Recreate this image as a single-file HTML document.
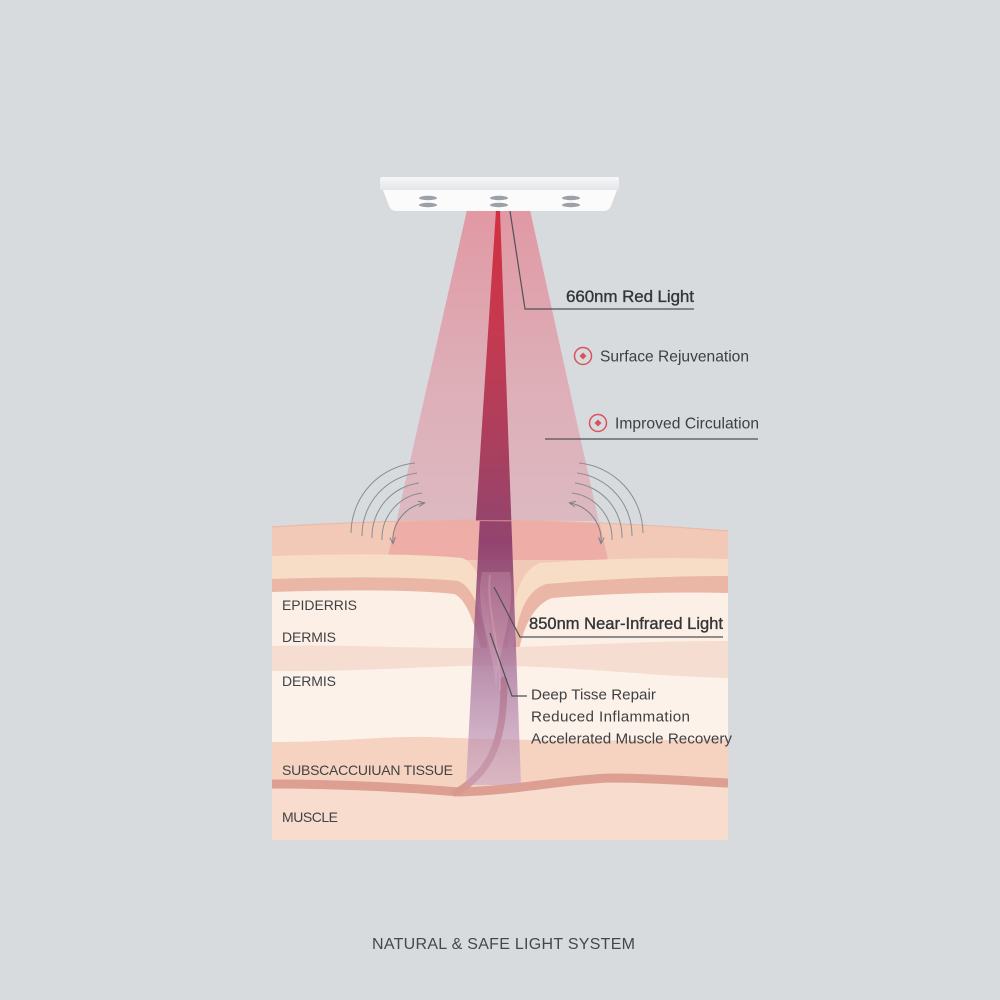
<!DOCTYPE html>
<html>
<head>
<meta charset="utf-8">
<style>
html,body{margin:0;padding:0;background:#d8dbde;}
svg{display:block;}
text{font-family:"Liberation Sans",sans-serif;}
</style>
</head>
<body>
<svg width="1000" height="1000" viewBox="0 0 1000 1000" xmlns="http://www.w3.org/2000/svg">
<defs>
  <linearGradient id="cone" gradientUnits="userSpaceOnUse" x1="0" y1="210" x2="0" y2="560">
    <stop offset="0" stop-color="rgb(232,100,118)" stop-opacity="0.56"/>
    <stop offset="0.5" stop-color="rgb(230,108,126)" stop-opacity="0.40"/>
    <stop offset="1" stop-color="rgb(230,110,130)" stop-opacity="0.29"/>
  </linearGradient>
  <linearGradient id="beam" gradientUnits="userSpaceOnUse" x1="0" y1="210" x2="0" y2="785">
    <stop offset="0" stop-color="#d2303f"/>
    <stop offset="0.2" stop-color="#c6394f"/>
    <stop offset="0.42" stop-color="#a9405f"/>
    <stop offset="0.58" stop-color="#8d3f6c" stop-opacity="0.95"/>
    <stop offset="0.76" stop-color="#96598a" stop-opacity="0.72"/>
    <stop offset="1" stop-color="#c3a0c3" stop-opacity="0.55"/>
  </linearGradient>
  <linearGradient id="bar" x1="0" y1="0" x2="0" y2="1">
    <stop offset="0" stop-color="#f6f7f8"/>
    <stop offset="1" stop-color="#e3e5e8"/>
  </linearGradient>
  <clipPath id="skin">
    <path d="M272,527 Q500,512 728,531 L728,840 L272,840 Z"/>
  </clipPath>
  <clipPath id="above"><path d="M0,0 L1000,0 L1000,531 Q500,512 0,527 Z"/></clipPath>
  <marker id="ah" viewBox="0 0 10 10" refX="8" refY="5" markerWidth="7" markerHeight="7" orient="auto-start-reverse">
    <path d="M0,1 L9,5 L0,9" fill="none" stroke="#7d8084" stroke-width="1.4"/>
  </marker>
</defs>

<rect width="1000" height="1000" fill="#d8dbde"/>

<!-- SKIN -->
<g clip-path="url(#skin)">
  <rect x="272" y="500" width="456" height="340" fill="#f2c9b7"/>
  <polygon points="467,210 530,210 608,560 387,560" fill="url(#cone)"/>
  <!-- layer 2 peach -->
  <path d="M272,556 Q400,552 462,558 C480,564 488,600 494,665 L506,665 C512,600 518,572 540,563 Q640,556 728,559 L728,840 L272,840 Z" fill="#f8ddc6"/>
  <!-- layer 3 dark pink -->
  <path d="M272,579 Q400,575 458,581 C476,588 484,620 492,675 L510,675 C516,615 524,592 546,584 Q640,576 728,576 L728,840 L272,840 Z" fill="#eab6a6"/>
  <!-- layer 4 cream -->
  <path d="M272,592 Q400,588 454,594 C470,600 480,640 490,690 L512,690 C518,640 528,607 552,598 Q640,591 728,593 L728,840 L272,840 Z" fill="#fcefe6"/>
  <!-- band 5 light pink -->
  <path d="M272,646 C330,644 400,648 460,648 C540,648 620,641 728,641 L728,840 L272,840 Z" fill="#f6ddd1"/>
  <!-- layer 6 cream -->
  <path d="M272,671 C340,672 400,668 460,666 C560,664 640,676 728,678 L728,840 L272,840 Z" fill="#fcf2ea"/>
  <!-- subcutaneous -->
  <path d="M272,742 C340,742 380,736 430,737 C500,740 600,742 728,739 L728,840 L272,840 Z" fill="#f6d3c0"/>
  <!-- muscle -->
  <path d="M272,788 C340,788 400,791 460,796 C520,794 560,784 610,782 C660,782 700,786 728,788 L728,840 L272,840 Z" fill="#f8dccd"/>
  <path d="M272,784 C340,784 400,787 460,792 C520,790 560,780 610,778 C660,778 700,782 728,783" fill="none" stroke="#dc9f92" stroke-width="9"/>
  <path d="M504,680 C504,735 495,770 455,793" fill="none" stroke="#d6998f" stroke-width="7" stroke-linecap="round"/>
  <polygon points="496,210 500,210 521,785 466,785" fill="url(#beam)"/>
  <path d="M482,572 C474,610 492,640 496,688 C500,640 516,612 510,572 Z" fill="rgba(255,215,220,0.18)"/>
  <path d="M490,575 C486,610 500,640 500,690" fill="none" stroke="rgba(240,190,200,0.25)" stroke-width="2"/>
</g>
<path d="M272,527 Q500,512 728,531" fill="none" stroke="#ebb9a8" stroke-width="1.2"/>

<polygon points="467,210 530,210 604,545 391,545" fill="url(#cone)" clip-path="url(#above)"/>
<polygon points="496,210 500,210 514.6,610 470,610" fill="url(#beam)" clip-path="url(#above)"/>

<!-- DEVICE -->
<rect x="380" y="177" width="239" height="13" rx="2" fill="url(#bar)"/>
<path d="M383,190 L617,190 L611,206 Q609,211 603,211 L397,211 Q391,211 389,206 Z" fill="#fbfbfc"/>
<g fill="#9ba1a7">
  <ellipse cx="428" cy="198" rx="9" ry="2.2"/>
  <ellipse cx="428" cy="205" rx="9" ry="2.2"/>
  <ellipse cx="499" cy="198" rx="9" ry="2.2"/>
  <ellipse cx="499" cy="205" rx="9" ry="2.2"/>
  <ellipse cx="571" cy="198" rx="9" ry="2.2"/>
  <ellipse cx="571" cy="205" rx="9" ry="2.2"/>
</g>

<!-- ARCS -->
<g fill="none" stroke="#8a8d91" stroke-width="1">
  <path d="M415,463 A71,71 0 0 0 351,533"/>
  <path d="M417,473 A63,63 0 0 0 362,536"/>
  <path d="M419,483 A54,54 0 0 0 372,538"/>
  <path d="M422,493 A46,46 0 0 0 382,540"/>
  <path d="M424,503 A38,38 0 0 0 393,543" stroke="#7d8084" marker-start="url(#ah)" marker-end="url(#ah)"/>
  <path d="M579,463 A71,71 0 0 1 643,533"/>
  <path d="M577,473 A63,63 0 0 1 632,536"/>
  <path d="M575,483 A54,54 0 0 1 622,538"/>
  <path d="M572,493 A46,46 0 0 1 612,540"/>
  <path d="M570,503 A38,38 0 0 1 601,543" stroke="#7d8084" marker-start="url(#ah)" marker-end="url(#ah)"/>
</g>

<!-- LEADERS -->
<g fill="none" stroke="#4f5256" stroke-width="1.2">
  <path d="M510,211 L525,309 L694,309"/>
  <path d="M545,439 L758,439"/>
  <path d="M494,587 L520,637 L723,637"/>
  <path d="M490,633 L512,696 L527,696"/>
</g>

<!-- ICONS -->
<g fill="none" stroke="#d9535c" stroke-width="1.5">
  <circle cx="583" cy="356" r="8.5"/>
  <circle cx="598" cy="423" r="8.5"/>
</g>
<g fill="#d9535c">
  <path d="M583,352.5 L586.5,356 L583,359.5 L579.5,356 Z"/>
  <path d="M598,419.5 L601.5,423 L598,426.5 L594.5,423 Z"/>
</g>

<!-- TEXT -->
<g fill="#333538">
  <text x="566" y="302" font-size="17" stroke="#333538" stroke-width="0.35" textLength="128">660nm Red Light</text>
  <text x="600" y="361.5" font-size="15.6" fill="#3d3f42" textLength="149">Surface Rejuvenation</text>
  <text x="615" y="428.5" font-size="15.6" fill="#3d3f42" textLength="144">Improved Circulation</text>
  <text x="529" y="629" font-size="16.5" stroke="#333538" stroke-width="0.35" textLength="194">850nm Near-Infrared Light</text>
  <text x="531" y="699.5" font-size="15.2" fill="#3d3f42">Deep Tisse Repair</text>
  <text x="531" y="721.5" font-size="15.2" fill="#3d3f42" textLength="159">Reduced Inflammation</text>
  <text x="531" y="743.5" font-size="15.2" fill="#3d3f42" textLength="201">Accelerated Muscle Recovery</text>
</g>
<g fill="#404245" font-size="14">
  <text x="282" y="610" textLength="75">EPIDERRIS</text>
  <text x="282" y="642" textLength="54">DERMIS</text>
  <text x="282" y="686" textLength="54">DERMIS</text>
  <text x="282" y="775" textLength="171">SUBSCACCUIUAN TISSUE</text>
  <text x="282" y="822" textLength="56">MUSCLE</text>
</g>
<text x="372" y="949" font-size="16" fill="#45474a" textLength="263">NATURAL &amp; SAFE LIGHT SYSTEM</text>
</svg>
</body>
</html>
